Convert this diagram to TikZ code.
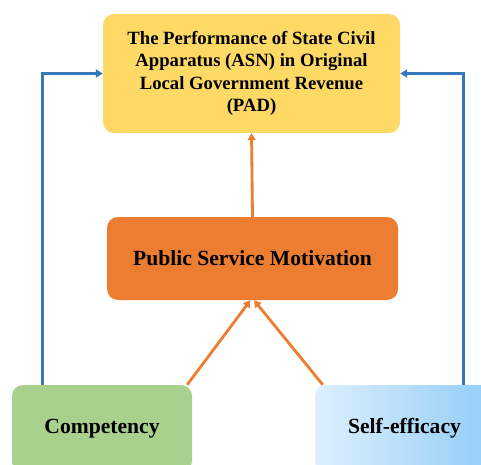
\documentclass[tikz,border=0pt]{standalone}
\usepackage{fontspec}
\setmainfont{Liberation Serif}
\usetikzlibrary{arrows.meta,shadings}
\definecolor{goldbox}{HTML}{FFD966}
\definecolor{orangebox}{HTML}{ED7D31}
\definecolor{greenbox}{HTML}{A9D18E}
\definecolor{skyleft}{HTML}{DDEFFD}
\definecolor{skyright}{HTML}{92CDF7}
\definecolor{linkblue}{HTML}{3479BC}
\begin{document}
\begin{tikzpicture}[x=1pt,y=1pt,
  card/.style={rounded corners=11pt, align=center, inner sep=0pt,
    font=\bfseries},
  bluelink/.style={draw=linkblue, line width=3pt,
    -{Triangle[length=7pt,width=8pt]}},
  orangelink/.style={draw=orangebox, line width=2.8pt,
    -{Triangle[length=7pt,width=8pt]}}]
\useasboundingbox (0,0) rectangle (481,464);
\clip (0,0) rectangle (481,464);
\fill[white] (0,0) rectangle (481,464);

% outcome
\node[card, fill=goldbox, minimum width=297pt, minimum height=119pt,
  font=\bfseries\fontsize{18.7}{22.6}\selectfont] (top) at (251.5,390.5)
  {The Performance of State Civil\\Apparatus (ASN) in Original\\Local Government Revenue\\(PAD)};

% mediator
\node[card, fill=orangebox, minimum width=291pt, minimum height=83pt,
  font=\bfseries\fontsize{21.6}{26}\selectfont] (mid) at (252.5,205.5)
  {Public Service Motivation};

% predictors
\node[card, fill=greenbox, minimum width=180pt, minimum height=87pt,
  font=\bfseries\fontsize{21.6}{26}\selectfont] (comp) at (102,35.5)
  {Competency};
\node[card, left color=skyleft, right color=skyright, minimum width=179pt,
  minimum height=87pt, font=\bfseries\fontsize{21.6}{26}\selectfont]
  (self) at (404.5,35.5) {Self-efficacy};

% direct effects
\draw[bluelink] ([xshift=-60pt]comp.north) |- (top.west);
\draw[bluelink] ([xshift=58.5pt]self.north) |- (top.east);

% mediated paths
\draw[orangelink] (mid.north) -- (top.south);
\draw[orangelink] ([xshift=-5pt]comp.north east) -- ([xshift=-2pt]mid.south);
\draw[orangelink] ([xshift=8pt]self.north west) -- ([xshift=1.5pt]mid.south);
\end{tikzpicture}
\end{document}
